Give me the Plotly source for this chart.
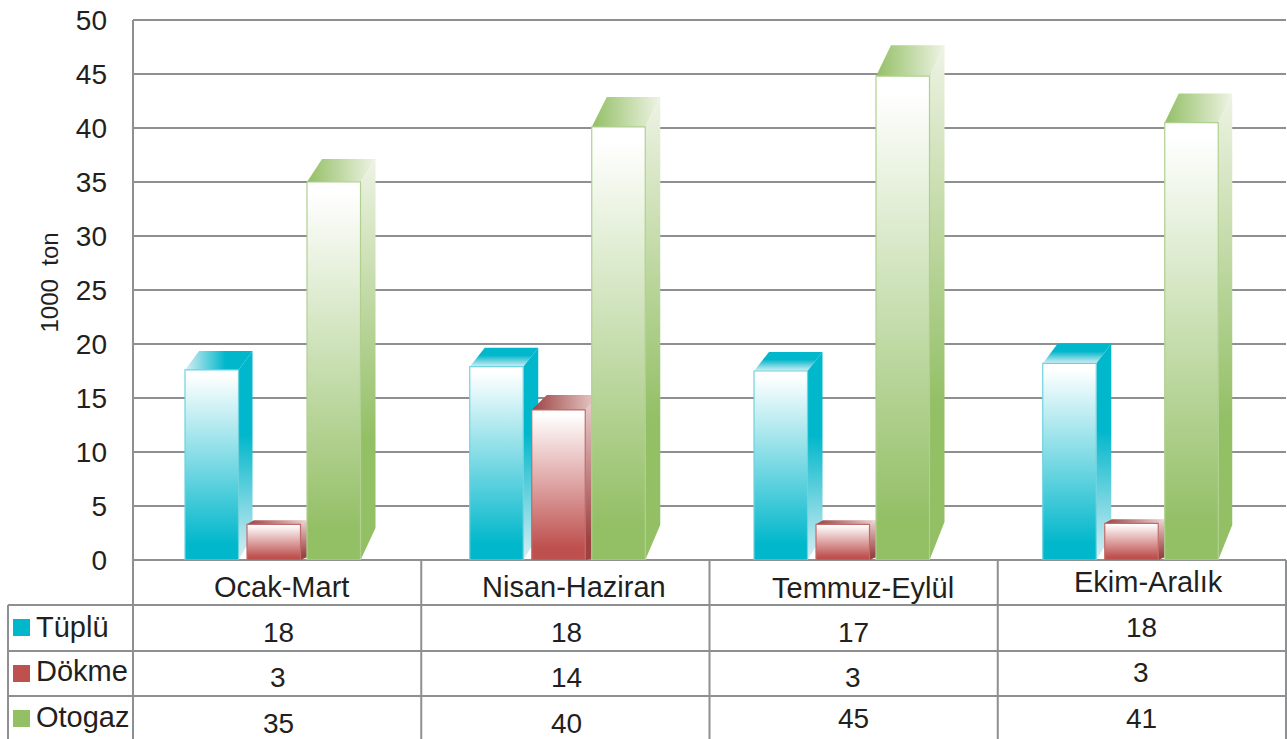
import plotly.graph_objects as go

# ---------- data ----------
categories = ["Ocak-Mart", "Nisan-Haziran", "Temmuz-Eylül", "Ekim-Aralık"]
tuplu = [17.6, 17.9, 17.5, 18.2]
dokme = [3.3, 13.9, 3.3, 3.4]
otogaz = [35.0, 40.1, 44.8, 40.5]
tuplu_labels = ["18", "18", "17", "18"]
dokme_labels = ["3", "14", "3", "3"]
otogaz_labels = ["35", "40", "45", "41"]
y_ticks = [0, 5, 10, 15, 20, 25, 30, 35, 40, 45, 50]

# ---------- layout constants (pixels on the page) ----------
W, H = 1287, 739
L, R, T, B = 133, 1286, 20, 560
PW, PH = R - L, B - T
CAT_W = PW / 4
GRID = "#8e8f91"
INK = "#231f20"
FONT = "Liberation Sans"
BAR_W = 53.5
group_left = [52, 48.5, 44.5, 45]      # first bar offset in each category
bar_step = [0, 62, 122]                # bar offsets inside a group
depth_dx = [[14, 7, 15], [15, 15, 15], [15, 7, 15], [15, 7, 14]]
depth_top = [[19, 4, 23], [19, 15, 30], [19, 4, 31], [20, 4, 29]]
depth_bot = [[24, 3, 32], [24, 3, 35], [24, 3, 38], [24, 3, 35]]

series = [
    dict(name="Tüplü", vals=tuplu, labels=tuplu_labels, color="#00b7cb", pale="#d8eef3", line="#6fd3de"),
    dict(name="Dökme", vals=dokme, labels=dokme_labels, color="#be504e", pale="#ecd3d1", line="#c26a69"),
    dict(name="Otogaz", vals=otogaz, labels=otogaz_labels, color="#93bf65", pale="#eef3e4", line="#b0d090"),
]
DARK_RED = "#9c4242"
row_lines = [605, 651, 696]
row_swatch = [619, 665, 710]
row_label_y = [627, 671, 717]
value_y = [[632, 632, 632, 627], [677, 677, 677, 672], [723, 723, 718, 718]]
cat_label = [(281, 587), (574, 587), (863, 588), (1148, 582)]
value_x = [278, 566, 853, 1141]


def ax(px):
    return (px - L) / CAT_W


def ay(py_delta):
    return py_delta * 50 / PH


def px_x(px):
    return (px - L) / PW


def px_y(py):
    return 1 - (py - T) / PH


def poly(xs, ys, grad_type, stops, line=None, lw=0):
    return go.Scatter(
        x=xs + xs[:1], y=ys + ys[:1], mode="lines", fill="toself",
        fillgradient=dict(type=grad_type, colorscale=stops),
        line=dict(color=line or "rgba(0,0,0,0)", width=lw),
        hoverinfo="skip", showlegend=False,
    )


def top_face(s_i, c):
    s = series[s_i]
    if s_i == 0 and c == 0:
        return "horizontal", [[0, s["pale"]], [0.6, s["color"]], [1, s["color"]]]
    if s_i == 0:
        return "vertical", [[0, s["pale"]], [0.6, s["color"]], [1, s["color"]]]
    if s_i == 1:
        return "horizontal", [[0, DARK_RED], [1, s["pale"]]]
    return "horizontal", [[0, s["color"]], [1, s["pale"]]]


def side_face(s_i):
    s = series[s_i]
    if s_i == 0:
        return [[0, s["pale"]], [0.6, s["color"]], [1, s["color"]]]
    if s_i == 1:
        return [[0, DARK_RED], [0.12, DARK_RED], [1, s["pale"]]]
    return [[0, s["color"]], [0.3, s["color"]], [1, s["pale"]]]


fig = go.Figure()

for c in range(len(categories)):
    for s_i, s in enumerate(series):
        v = s["vals"][c]
        x0 = ax(L + c * CAT_W + group_left[c] + bar_step[s_i])
        x1 = x0 + BAR_W / CAT_W
        dx = depth_dx[c][s_i] / CAT_W
        dt = ay(depth_top[c][s_i])
        db = ay(depth_bot[c][s_i])
        kind, stops = top_face(s_i, c)
        fig.add_trace(poly([x0, x1, x1 + dx, x0 + dx], [v, v, v + dt, v + dt], kind, stops))
        fig.add_trace(poly([x1, x1 + dx, x1 + dx, x1], [v, v + dt, db, 0], "vertical", side_face(s_i)))
        front = [[0, s["color"]], [0.08, s["color"]], [0.97, "#ffffff"], [1, "#ffffff"]]
        fig.add_trace(poly([x0, x1, x1, x0], [0, 0, v, v], "vertical", front, s["line"], 1.2))

shapes = []
annotations = []


def hline(y, x0, x1):
    shapes.append(dict(type="line", xref="paper", yref="paper", x0=px_x(x0), x1=px_x(x1),
                       y0=px_y(y), y1=px_y(y), line=dict(color=GRID, width=2)))


def vline(x, y0, y1):
    shapes.append(dict(type="line", xref="paper", yref="paper", x0=px_x(x), x1=px_x(x),
                       y0=px_y(y0), y1=px_y(y1), line=dict(color=GRID, width=2)))


def text(x, y, t, size=28, anchor="center", angle=0):
    annotations.append(dict(xref="paper", yref="paper", x=px_x(x), y=px_y(y), text=t, showarrow=False,
                            xanchor=anchor, yanchor="middle", textangle=angle,
                            font=dict(family=FONT, size=size, color=INK)))


hline(T, L, R)
for y in row_lines:
    hline(y, 8, R)
vline(8, 605, 739)
vline(L, T, 739)
for c in range(1, 5):
    vline(L + c * CAT_W, B, 739)

for c, name in enumerate(categories):
    text(cat_label[c][0], cat_label[c][1], name, size=29)

for s_i, s in enumerate(series):
    y = row_swatch[s_i]
    shapes.append(dict(type="rect", xref="paper", yref="paper", x0=px_x(13), x1=px_x(30),
                       y0=px_y(y), y1=px_y(y + 17), fillcolor=s["color"], line=dict(width=0)))
    text(34, row_label_y[s_i], s["name"], size=29, anchor="left")
    for c in range(len(categories)):
        text(value_x[c], value_y[s_i][c], s["labels"][c], size=28)

text(48.5, 283, "1000  ton", size=24, angle=-90)

fig.update_layout(
    width=W, height=H, margin=dict(l=L, r=W - R, t=T, b=H - B, pad=0),
    paper_bgcolor="white", plot_bgcolor="white", showlegend=False,
    shapes=shapes, annotations=annotations,
    font=dict(family=FONT, color=INK),
    xaxis=dict(range=[0, 4], showgrid=False, zeroline=False, showticklabels=False, ticks="", fixedrange=True),
    yaxis=dict(range=[0, 50], tickvals=y_ticks, showgrid=True, gridcolor=GRID, gridwidth=2,
               zeroline=True, zerolinecolor=GRID, zerolinewidth=2, ticks="",
               ticklabelstandoff=25, tickfont=dict(family=FONT, size=28, color=INK), fixedrange=True),
)

fig.write_html("out.html", config=dict(displayModeBar=False),
               post_script="document.body.style.margin='0';")
